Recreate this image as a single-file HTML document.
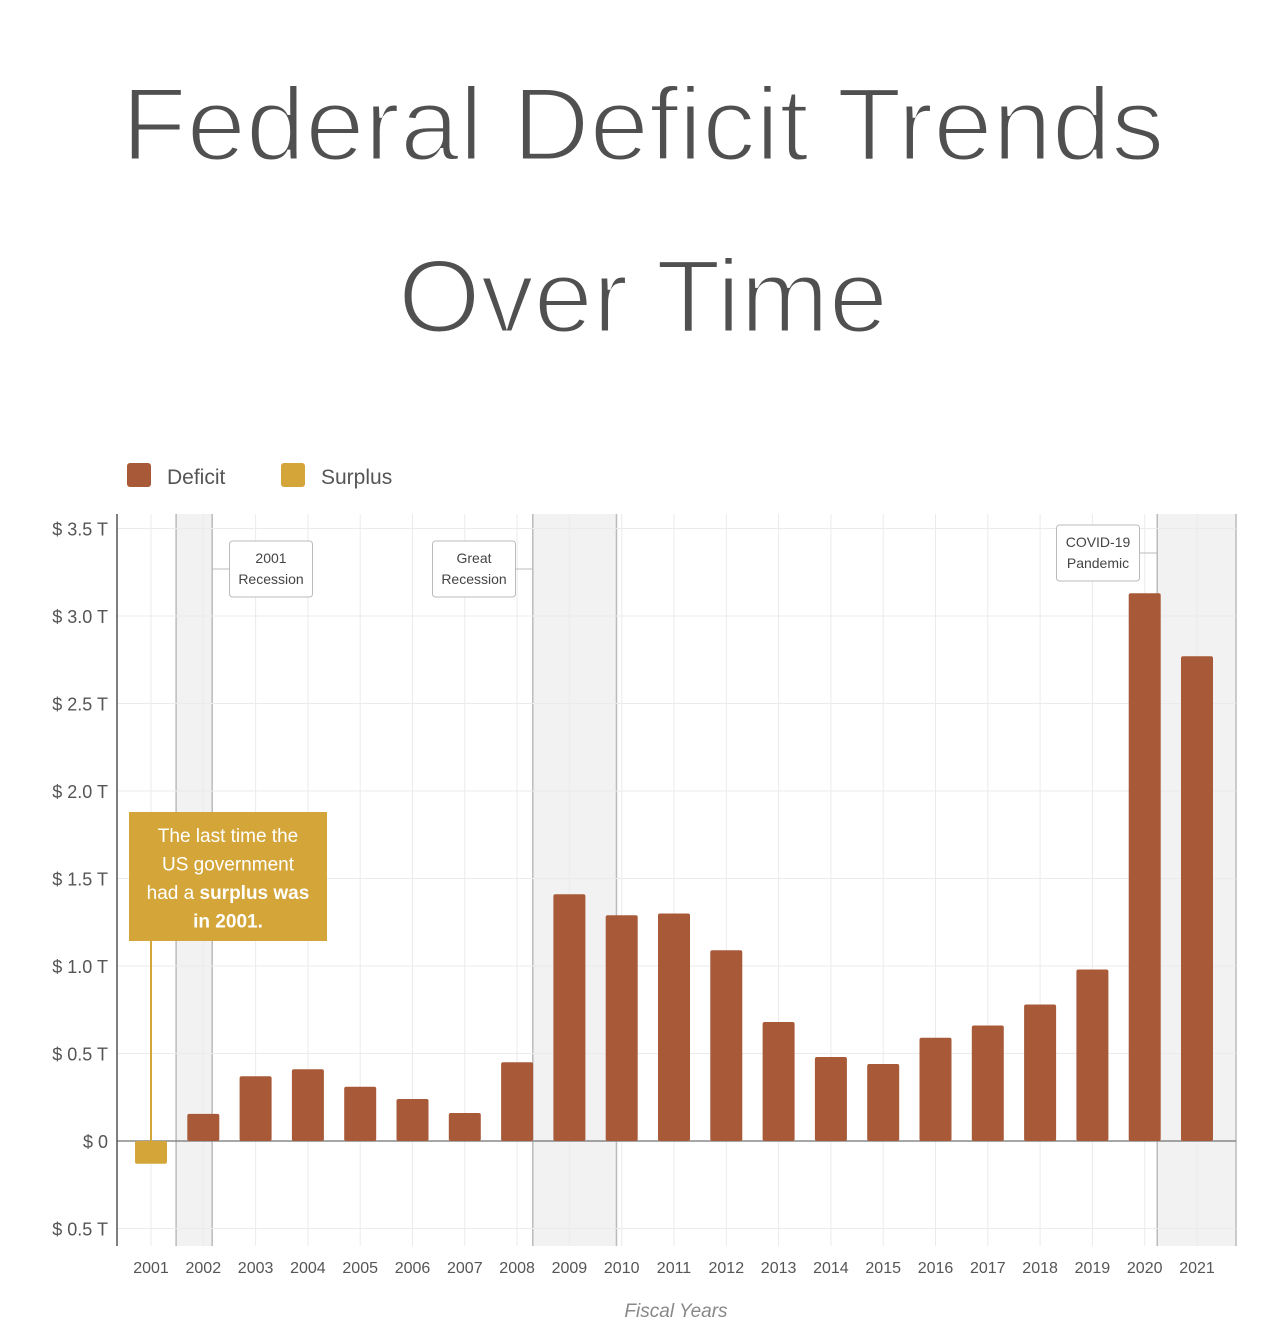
<!DOCTYPE html>
<html><head><meta charset="utf-8"><style>
body{margin:0;background:#fff;font-family:"Liberation Sans",sans-serif}
svg{display:block}
</style></head><body>
<svg id="chart" width="1284" height="1330" viewBox="0 0 1284 1330" xmlns="http://www.w3.org/2000/svg">
<text x="643" y="160" text-anchor="middle" font-size="104" fill="#505050" stroke="#fff" stroke-width="3" textLength="1043" lengthAdjust="spacingAndGlyphs" font-family="Liberation Sans, sans-serif">Federal Deficit Trends</text>
<text x="643" y="332" text-anchor="middle" font-size="104" fill="#505050" stroke="#fff" stroke-width="3" textLength="490" lengthAdjust="spacingAndGlyphs" font-family="Liberation Sans, sans-serif">Over Time</text>
<g>
<rect x="127" y="463" width="24" height="24" rx="3" fill="#a85a38"/>
<text x="167" y="484" font-size="21" fill="#555">Deficit</text>
<rect x="281" y="463" width="24" height="24" rx="3" fill="#d4a63a"/>
<text x="321" y="484" font-size="21" fill="#555">Surplus</text>
</g>
<g id="plot"></g>
</svg>
<script>
const years=["2001","2002","2003","2004","2005","2006","2007","2008","2009","2010","2011","2012","2013","2014","2015","2016","2017","2018","2019","2020","2021"];
const balance=[-0.13,0.155,0.37,0.41,0.31,0.24,0.16,0.45,1.41,1.29,1.30,1.09,0.68,0.48,0.44,0.59,0.66,0.78,0.98,3.13,2.77];
const yTicks=[-0.5,0,0.5,1.0,1.5,2.0,2.5,3.0,3.5];
const yTickLabels=["$ 0.5 T","$ 0","$ 0.5 T","$ 1.0 T","$ 1.5 T","$ 2.0 T","$ 2.5 T","$ 3.0 T","$ 3.5 T"];
const shadeStarts=[0.48,7.3,19.24];
const shadeEnds=[1.17,8.9,20.75];
const NS="http://www.w3.org/2000/svg";
const g=document.getElementById('plot');
const L=117,R=1236,T=514,B=1246;
const x=i=>151+i*52.3;
const y=v=>1141-v*175;
function mk(tag,a){const e=document.createElementNS(NS,tag);for(const k in a)e.setAttribute(k,a[k]);g.appendChild(e);return e;}
for(let i=0;i<shadeStarts.length;i++){
 const x0=x(shadeStarts[i]),x1=Math.min(x(shadeEnds[i]),R);
 const s=mk('rect',{x:x0,y:T,width:x1-x0,height:B-T,fill:'#f2f2f2'});
 
 
 const l1=mk('line',{x1:x0,x2:x0,y1:T,y2:B,stroke:'#bbb','stroke-width':1.5});
 
 
 const l2=mk('line',{x1:x1,x2:x1,y1:T,y2:B,stroke:'#bbb','stroke-width':1.5});
 
 
}
years.forEach((yr,i)=>{
 const l=mk('line',{x1:x(i),x2:x(i),y1:T,y2:B,stroke:'#ebebeb','stroke-width':1});
 
 
 const t=mk('text',{x:x(i),y:1273,'text-anchor':'middle','font-size':16,fill:'#555'});
 t.textContent=yr;
 
 
});
yTicks.forEach((v,i)=>{
 const l=mk('line',{x1:L,x2:R,y1:y(v),y2:y(v),stroke:v===0?'#888':'#ebebeb','stroke-width':v===0?1.5:1});
 
 
 const t=mk('text',{x:108,y:y(v)+7,'text-anchor':'end','font-size':18,fill:'#555'});
 t.textContent=yTickLabels[i];
 
 
});
const ax=mk('line',{x1:L,x2:L,y1:T,y2:B,stroke:'#555','stroke-width':1.5});


balance.forEach((v,i)=>{
 const top=Math.min(y(v),y(0)),h=Math.abs(y(v)-y(0));
 const b=mk('rect',{x:x(i)-16,y:top,width:32,height:h,rx:2,fill:v<0?'#d4a63a':'#a85a38'});
 
 
});
function note(name,cx,cy,w,lines,lineTo){
 if(lineTo!==undefined){const l=mk('line',{x1:lineTo,x2:cx+(lineTo<cx?-w/2:w/2),y1:cy,y2:cy,stroke:'#bbb'});
 
 }
 const r=mk('rect',{x:cx-w/2,y:cy-28,width:w,height:56,rx:3,fill:'#fff',stroke:'#bbb'});
 
 
 lines.forEach((s,k)=>{const t=mk('text',{x:cx,y:cy-6+k*21,'text-anchor':'middle','font-size':14,fill:'#444'});t.textContent=s;
 
 });
}
note('note-2001-recession',271,569,83,['2001','Recession'],212);
note('note-great-recession',474,569,83,['Great','Recession'],532);
note('note-covid',1098,553,83,['COVID-19','Pandemic'],1157);
const cl=mk('line',{x1:151,x2:151,y1:940,y2:1150,stroke:'#d4a63a','stroke-width':2});


const cb=mk('rect',{x:129,y:812,width:198,height:129,fill:'#d4a63a'});


const cls=[['The last time the',''],['US government',''],['had a ','surplus was'],['in 2001.','']];
cls.forEach((p,k)=>{const t=mk('text',{x:228,y:842+k*28.5,'text-anchor':'middle','font-size':19,fill:'#fff'});
 if(k===3){t.setAttribute('font-weight','bold');}
 t.textContent=p[0];
 if(p[1]){const s=document.createElementNS(NS,'tspan');s.setAttribute('font-weight','bold');s.textContent=p[1];t.appendChild(s);}
 
 });
const xt=mk('text',{x:676,y:1317,'text-anchor':'middle','font-size':19,'font-style':'italic',fill:'#888'});
xt.textContent='Fiscal Years';


</script>
</body></html>
